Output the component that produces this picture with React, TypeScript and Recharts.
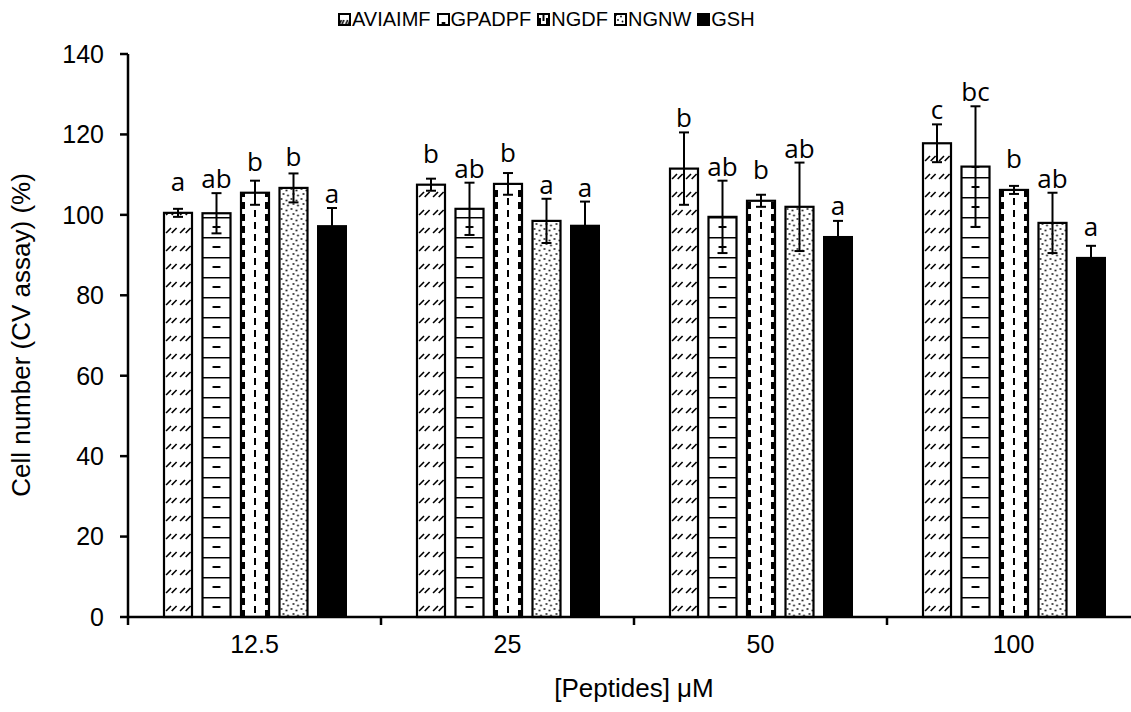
import React from "react";
import { BarChart, Bar, XAxis, YAxis, ErrorBar, LabelList } from "recharts";

// [Peptides] uM groups
const doses = ["12.5", "25", "50", "100"];
const peptides = ["AVIAIMF", "GPADPF", "NGDF", "NGNW", "GSH"];

// mean values (%)
const aviaimf = [100.5, 107.5, 111.5, 117.8];
const gpadpf = [100.4, 101.5, 99.5, 112];
const ngdf = [105.5, 107.7, 103.5, 106.2];
const ngnw = [106.7, 98.5, 102, 98];
const gsh = [97.2, 97.3, 94.5, 89.3];

// error bars (+/-)
const aviaimfErr = [1, 1.5, 9, 4.7];
const gpadpfErr = [5, 6.5, 9, 15];
const ngdfErr = [3, 2.7, 1.5, 1];
const ngnwErr = [3.6, 5.5, 11, 7.5];
const gshErr = [4.5, 6, 4, 3];

// significance letters
const aviaimfSig = ["a", "b", "b", "c"];
const gpadpfSig = ["ab", "ab", "ab", "bc"];
const ngdfSig = ["b", "b", "b", "b"];
const ngnwSig = ["b", "a", "ab", "ab"];
const gshSig = ["a", "a", "a", "a"];

const yTicks = [0, 20, 40, 60, 80, 100, 120, 140];

const series = [
  { key: peptides[0], values: aviaimf, err: aviaimfErr, sig: aviaimfSig, kind: "diag" },
  { key: peptides[1], values: gpadpf, err: gpadpfErr, sig: gpadpfSig, kind: "hline" },
  { key: peptides[2], values: ngdf, err: ngdfErr, sig: ngdfSig, kind: "vdash" },
  { key: peptides[3], values: ngnw, err: ngnwErr, sig: ngnwSig, kind: "dots" },
  { key: peptides[4], values: gsh, err: gshErr, sig: gshSig, kind: "solid" },
];

const data = doses.map((d, i) => {
  const row: any = { dose: d };
  series.forEach((s) => {
    row[s.key] = s.values[i];
    row[s.key + "_err"] = s.err[i];
    row[s.key + "_sig"] = s.sig[i];
  });
  return row;
});

const W = 1150;
const H = 712;
const LEFT = 128;
const RIGHT = 10;
const FONT = "'Liberation Sans', Arial, sans-serif";

function patternContent(kind: string, w: number) {
  if (kind === "diag") {
    return (
      <>
        <rect width={w} height={18} fill="#fff" />
        <line x1={w * 0.15} y1={12} x2={w * 0.5} y2={7} stroke="#000" strokeWidth={1.6} />
        <line x1={w * 0.55} y1={12} x2={w * 0.9} y2={7} stroke="#000" strokeWidth={1.6} />
      </>
    );
  }
  if (kind === "hline") {
    return (
      <>
        <rect width={w} height={20} fill="#fff" />
        <line x1={0} y1={0.5} x2={w} y2={0.5} stroke="#000" strokeWidth={2} />
        <line x1={w * 0.36} y1={10} x2={w * 0.64} y2={10} stroke="#000" strokeWidth={2} />
      </>
    );
  }
  if (kind === "vdash") {
    return (
      <>
        <rect width={w} height={12} fill="#fff" />
        <line x1={w / 2} y1={1} x2={w / 2} y2={8} stroke="#000" strokeWidth={2} />
        <rect x={0} y={5} width={4} height={7} fill="#000" />
        <rect x={w - 4} y={5} width={4} height={7} fill="#000" />
      </>
    );
  }
  return (
    <>
      <rect width={10} height={10} fill="#fff" />
      <circle cx={2} cy={2} r={0.9} fill="#000" />
      <circle cx={7} cy={3.5} r={0.9} fill="#000" />
      <circle cx={4} cy={7} r={0.9} fill="#000" />
      <circle cx={8.5} cy={8.5} r={0.9} fill="#000" />
    </>
  );
}

function patternSize(kind: string, w: number) {
  if (kind === "diag") return [w / 2, 18];
  if (kind === "hline") return [w, 20];
  if (kind === "vdash") return [w, 12];
  return [10, 10];
}

const makeShape = (kind: string, key: string) => (props: any) => {
  const { x, y, width, height, index } = props;
  if (kind === "solid") {
    return <rect x={x} y={y} width={width} height={height} fill="#000" stroke="#000" strokeWidth={2} />;
  }
  const id = `pat-${key}-${index}`;
  const [pw, ph] = patternSize(kind, width);
  return (
    <g>
      <defs>
        <pattern id={id} patternUnits="userSpaceOnUse" x={x} y={y + height} width={pw} height={ph}>
          {patternContent(kind, kind === "diag" ? pw : width)}
        </pattern>
      </defs>
      <rect x={x} y={y} width={width} height={height} fill={`url(#${id})`} stroke="#000" strokeWidth={2.2} />
    </g>
  );
};

const makeSig = (key: string) => (props: any) => {
  const { x, y, width, height, index, value } = props;
  const row = data[index];
  const perUnit = height / row[key];
  const errTop = y - row[key + "_err"] * perUnit;
  const base = Math.min(errTop - 5, y - 22);
  return (
    <text x={x + width / 2} y={base} textAnchor="middle" fontSize={26} fontFamily="'Open Sans', sans-serif" fill="#000">
      {value}
    </text>
  );
};

const band = (W - LEFT - RIGHT) / doses.length;

const XTick = (props: any) => {
  const { x, y, payload, index } = props;
  return (
    <g>
      <line x1={x - band / 2} y1={y - 8} x2={x - band / 2} y2={y} stroke="#000" strokeWidth={2.5} />
      {index === doses.length - 1 && (
        <line x1={x + band / 2} y1={y - 8} x2={x + band / 2} y2={y} stroke="#000" strokeWidth={2.5} />
      )}
      <text x={x} y={y + 28} textAnchor="middle" fontSize={25} fontFamily={FONT} fill="#000">
        {payload.value}
      </text>
    </g>
  );
};

function Swatch({ kind, id }: { kind: string; id: string }) {
  const s = 13;
  return (
    <svg width={s} height={s} style={{ marginRight: 1 }}>
      {kind !== "solid" && (
        <defs>
          <pattern
            id={id}
            patternUnits="userSpaceOnUse"
            width={kind === "dots" ? 10 : kind === "diag" ? s / 2 : s}
            height={kind === "dots" ? 10 : kind === "vdash" ? 12 : kind === "diag" ? 18 : 20}
          >
            {patternContent(kind, kind === "diag" ? s / 2 : s)}
          </pattern>
        </defs>
      )}
      <rect x={1} y={1} width={s - 2} height={s - 2} fill={kind === "solid" ? "#000" : `url(#${id})`} stroke="#000" strokeWidth={2} />
    </svg>
  );
}

export default function App() {
  return (
    <div style={{ position: "absolute", left: 0, top: 0, width: 1131, height: H, overflow: "hidden", background: "#fff" }}>
      <div
        style={{
          position: "absolute",
          top: 8,
          left: 338,
          display: "flex",
          alignItems: "center",
          fontFamily: FONT,
          fontSize: 20,
          color: "#000",
          gap: 6,
        }}
      >
        {series.map((s) => (
          <div key={s.key} style={{ display: "flex", alignItems: "center" }}>
            <Swatch kind={s.kind} id={`leg-${s.key}`} />
            <span>{s.key}</span>
          </div>
        ))}
      </div>
      <BarChart
        width={W}
        height={H}
        data={data}
        margin={{ top: 54, right: RIGHT, bottom: 0, left: 0 }}
        barSize={28}
        barGap={10.5}
      >
        <XAxis
          dataKey="dose"
          height={95}
          axisLine={{ stroke: "#000", strokeWidth: 2.5 }}
          tickLine={false}
          tick={<XTick />}
          interval={0}
          label={{
            content: () => (
              <text x={634} y={697} textAnchor="middle" fontSize={26} fontFamily={FONT} fill="#000">
                [Peptides] μM
              </text>
            ),
          }}
        />
        <YAxis
          width={LEFT}
          domain={[0, 140]}
          ticks={yTicks}
          interval={0}
          axisLine={{ stroke: "#000", strokeWidth: 2.5 }}
          tickLine={{ stroke: "#000", strokeWidth: 2.5 }}
          tickSize={8}
          tickMargin={16}
          tick={{ fill: "#000", fontSize: 25, fontFamily: FONT }}
          label={{
            content: () => (
              <text transform="translate(30,335) rotate(-90)" textAnchor="middle" fontSize={26} fontFamily={FONT} fill="#000">
                Cell number (CV assay) (%)
              </text>
            ),
          }}
        />
        {series.map((s) => (
          <Bar key={s.key} dataKey={s.key} shape={makeShape(s.kind, s.key)} isAnimationActive={false}>
            <ErrorBar dataKey={s.key + "_err"} width={5} stroke="#000" strokeWidth={2} direction="y" />
            <LabelList dataKey={s.key + "_sig"} content={makeSig(s.key)} />
          </Bar>
        ))}
      </BarChart>
    </div>
  );
}
